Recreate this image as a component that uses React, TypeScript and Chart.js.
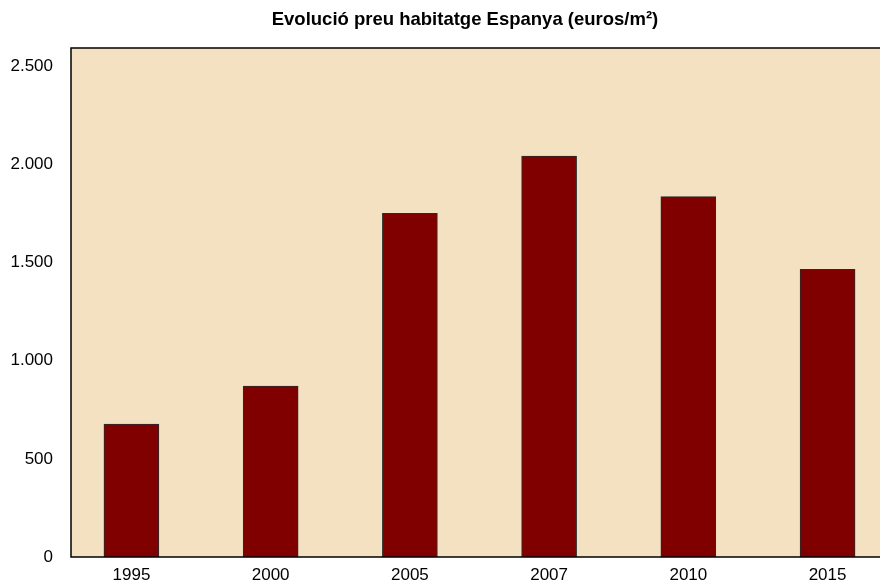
import React, { useEffect, useRef } from "react";
import { Chart, registerables } from "chart.js";

Chart.register(...registerables);

const TITLE = "Evolució preu habitatge Espanya (euros/m²)";
const YEARS = ["1995", "2000", "2005", "2007", "2010", "2015"];
const PRICES = [677, 871, 1750, 2042, 1835, 1465];
const Y_TICKS = [0, 500, 1000, 1500, 2000, 2500];

const fmt = (v: number) => String(v).replace(/\B(?=(\d{3})+(?!\d))/g, ".");

const FONT = "Liberation Sans, Arial, sans-serif";

const boxPlugin = {
  id: "plotBox",
  beforeDatasetsDraw(chart: any) {
    const { ctx, chartArea: a } = chart;
    ctx.save();
    ctx.fillStyle = "#F4E1C1";
    ctx.fillRect(a.left, a.top, a.right - a.left, a.bottom - a.top);
    ctx.restore();
  },
  afterDatasetsDraw(chart: any) {
    const { ctx, chartArea: a } = chart;
    ctx.save();
    ctx.strokeStyle = "#000000";
    ctx.lineWidth = 1.5;
    ctx.strokeRect(a.left, a.top, a.right - a.left, a.bottom - a.top);
    ctx.restore();
  },
  afterDraw(chart: any) {
    const { ctx } = chart;
    ctx.save();
    ctx.fillStyle = "#000";
    ctx.font = `bold 18.5px ${FONT}`;
    ctx.textAlign = "center";
    ctx.textBaseline = "middle";
    ctx.fillText(TITLE, 465, 20);
    ctx.restore();
  },
};

export default function App() {
  const ref = useRef<HTMLCanvasElement | null>(null);
  useEffect(() => {
    if (!ref.current) return;
    const chart = new Chart(ref.current, {
      type: "bar",
      data: {
        datasets: [
          {
            data: PRICES.map((v, i) => ({ x: i, y: v })),
            backgroundColor: "#800000",
            borderColor: "#2a2a2a",
            borderWidth: 1,
            barThickness: 55,
          },
        ],
      },
      options: {
        responsive: false,
        animation: false,
        layout: { padding: { left: 0, right: 42, top: 48, bottom: 0 } },
        plugins: {
          legend: { display: false },
          tooltip: { enabled: false },
          title: { display: false },
        },
        scales: {
          x: {
            type: "linear",
            bounds: "data",
            offset: false,
            min: -0.434,
            max: 5.434,
            grid: { display: false, drawTicks: false, offset: false },
            border: { display: false },
            afterBuildTicks: (s: any) => {
              s.ticks = YEARS.map((_, i) => ({ value: i }));
            },
            afterFit: (s: any) => {
              s.height = 33;
            },
            ticks: {
              padding: 8,
              color: "#000",
              font: { family: FONT, size: 17 },
              callback: (v: any) => YEARS[Math.round(Number(v))] ?? "",
              maxRotation: 0,
              autoSkip: false,
            },
          },
          y: {
            bounds: "data",
            min: 0,
            max: 2592,
            grid: { display: false, drawTicks: false },
            border: { display: false },
            afterBuildTicks: (s: any) => {
              s.ticks = Y_TICKS.map((v) => ({ value: v }));
            },
            afterFit: (s: any) => {
              s.width = 71;
            },
            ticks: {
              padding: 18,
              color: "#000",
              font: { family: FONT, size: 17 },
              callback: (v: any) => fmt(Number(v)),
            },
          },
        },
      },
      plugins: [boxPlugin],
    });
    return () => chart.destroy();
  }, []);
  return (
    <div
      style={{
        position: "fixed",
        left: 0,
        top: 0,
        width: 880,
        height: 582,
        overflow: "hidden",
        background: "#fff",
      }}
    >
      <canvas ref={ref} width={930} height={590} style={{ display: "block" }} />
    </div>
  );
}
